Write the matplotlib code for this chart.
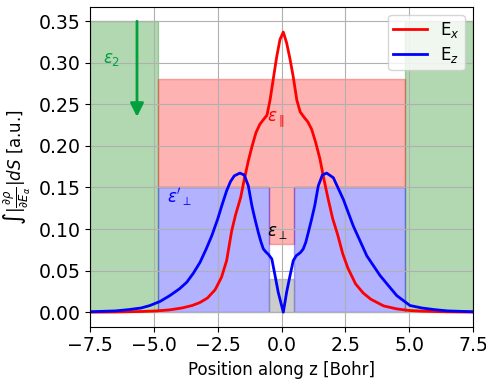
import matplotlib
matplotlib.use("Agg")
import matplotlib.pyplot as plt
from matplotlib.patches import Rectangle, Polygon

# ---- data ----
ex_x = [-7.5, -6.5, -5.5, -4.9, -4.4, -3.9, -3.5, -3.2, -2.9, -2.6, -2.35, -2.15,
        -1.95, -1.8, -1.6, -1.47, -1.3, -1.15, -1.0, -0.85, -0.7, -0.57, -0.45,
        -0.32, -0.19, -0.06, 0.07, 0.2, 0.33, 0.46, 0.6, 0.73, 0.87, 1.03, 1.18,
        1.33, 1.5, 1.66, 1.83, 2.0, 2.2, 2.4, 2.6, 2.9, 3.2, 3.5, 4.0, 4.5, 5.0,
        5.5, 6.5, 7.5]
ex_y = [0.0, 0.0002, 0.0008, 0.0015, 0.0027, 0.005, 0.008, 0.0115, 0.017, 0.027,
        0.042, 0.062, 0.098, 0.117, 0.138, 0.158, 0.182, 0.2, 0.216, 0.226, 0.232,
        0.237, 0.255, 0.281, 0.307, 0.328, 0.337, 0.324, 0.305, 0.283, 0.255,
        0.241, 0.235, 0.229, 0.22, 0.205, 0.185, 0.16, 0.1357, 0.113, 0.093,
        0.07, 0.053, 0.034, 0.023, 0.0155, 0.0075, 0.004, 0.002, 0.0012, 0.0004,
        0.0001]

ez_x = [-7.5, -6.5, -6.0, -5.5, -5.15, -4.75, -4.37, -4.0, -3.71, -3.45, -3.19,
        -2.95, -2.73, -2.5, -2.34, -2.15, -2.0, -1.85, -1.63, -1.46, -1.3, -1.16,
        -1.04, -0.91, -0.8, -0.71, -0.6, -0.52, -0.38, -0.25, -0.13, 0.07, 0.2,
        0.33, 0.46, 0.58, 0.66, 0.75, 0.85, 0.95, 1.05, 1.18, 1.3, 1.44, 1.6,
        1.77, 2.03, 2.42, 2.81, 3.34, 3.86, 4.51, 5.03, 5.5, 6.0, 6.5, 7.5]
ez_y = [0.0005, 0.0015, 0.003, 0.005, 0.008, 0.013, 0.02, 0.028, 0.036, 0.047,
        0.06, 0.076, 0.092, 0.112, 0.128, 0.146, 0.157, 0.164, 0.1673, 0.165,
        0.152, 0.128, 0.112, 0.096, 0.084, 0.076, 0.072, 0.0698, 0.064, 0.0435,
        0.024, 0.0, 0.024, 0.0435, 0.062, 0.068, 0.0698, 0.072, 0.076, 0.084,
        0.096, 0.112, 0.128, 0.152, 0.165, 0.1673, 0.1617, 0.1357, 0.1037,
        0.0678, 0.044, 0.02, 0.008, 0.005, 0.003, 0.0015, 0.0005]

series_labels = ["E$_x$", "E$_z$"]
series_colors = ["red", "blue"]

# region boundaries (data units)
x_lim = (-7.5, 7.5)
outer_edge = 4.84
inner_left, inner_right = -0.48, 0.5
eps2_top = 0.35
par_top, par_bottom, par_inner_bottom = 0.28, 0.15, 0.0815
perp_top = 0.15
grey_top = 0.04
arrow_x, arrow_y0, arrow_y1 = -5.66, 0.35, 0.235

fig = plt.figure(figsize=(4.86, 3.83), dpi=100)
ax = fig.add_axes([0.1852, 0.147, 0.7881, 0.8355])

# green eps2 regions
ax.add_patch(Rectangle((x_lim[0], 0), -outer_edge - x_lim[0], eps2_top,
                       color="green", alpha=0.3))
ax.add_patch(Rectangle((outer_edge, 0), x_lim[1] - outer_edge, eps2_top,
                       color="green", alpha=0.3))
# red eps_parallel region
ax.add_patch(Polygon([(-outer_edge, par_bottom), (inner_left, par_bottom),
                      (inner_left, par_inner_bottom), (inner_right, par_inner_bottom),
                      (inner_right, par_bottom), (outer_edge, par_bottom),
                      (outer_edge, par_top), (-outer_edge, par_top)],
                     closed=True, color="red", alpha=0.3))
# blue eps'_perp regions
ax.add_patch(Rectangle((-outer_edge, 0), inner_left + outer_edge, perp_top,
                       color="blue", alpha=0.3))
ax.add_patch(Rectangle((inner_right, 0), outer_edge - inner_right, perp_top,
                       color="blue", alpha=0.3))
# grey region
ax.add_patch(Rectangle((inner_left, 0), inner_right - inner_left, grey_top,
                       color="grey", alpha=0.4))

ax.plot(ex_x, ex_y, color=series_colors[0], lw=2, label=series_labels[0])
ax.plot(ez_x, ez_y, color=series_colors[1], lw=2, label=series_labels[1])

arrow_color = "#00a03c"
ax.annotate("", xy=(arrow_x, arrow_y1), xytext=(arrow_x, arrow_y0),
            arrowprops=dict(arrowstyle="-|>,head_width=0.4,head_length=0.8",
                            color=arrow_color, lw=2, shrinkA=0, shrinkB=0))

ax.text(-7.0, 0.305, r"$\varepsilon_2$", color=arrow_color, fontsize=12,
        ha="left", va="center")
ax.text(-0.55, 0.232, r"$\varepsilon_\parallel$", color="red", fontsize=12,
        ha="left", va="center")
ax.text(-4.5, 0.138, r"$\varepsilon'_\perp$", color="blue", fontsize=12,
        ha="left", va="center")
ax.text(-0.58, 0.097, r"$\varepsilon_\perp$", color="black", fontsize=12,
        ha="left", va="center")

ax.set_xlim(*x_lim)
ax.set_ylim(-0.0175, 0.3675)
ax.set_xticks([-7.5, -5.0, -2.5, 0.0, 2.5, 5.0, 7.5])
ax.set_yticks([0.0, 0.05, 0.10, 0.15, 0.20, 0.25, 0.30, 0.35])
ax.set_yticklabels(["0.00", "0.05", "0.10", "0.15", "0.20", "0.25", "0.30", "0.35"])
ax.tick_params(labelsize=13.6)
ax.grid(True)
ax.set_xlabel("Position along z [Bohr]", fontsize=12)
ax.set_ylabel(r"$\int|\frac{\partial\rho}{\partial E_\alpha}|dS$ [a.u.]", fontsize=12)
ax.legend(loc="upper right", fontsize=12, labelspacing=0.3, borderpad=0.3)

fig.savefig("out.png", dpi=100)
